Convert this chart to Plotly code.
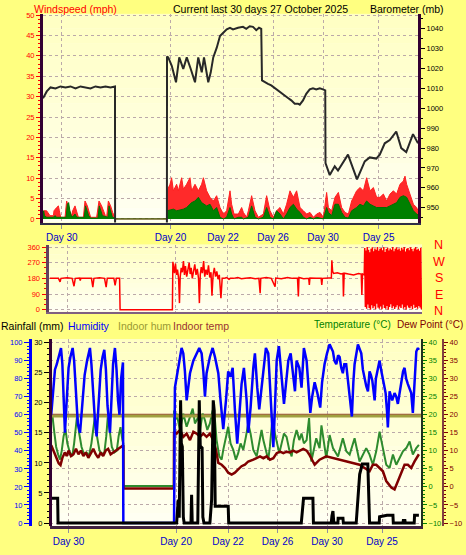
import plotly.graph_objects as go

W, H = 466, 555


def fx(p):
    return p / W


def fy(p):
    return 1 - p / H


# ---------------- DATA ----------------
day_tick_vals = [1.5, 10.2, 14.4, 18.4, 22.4, 26.85]
day_tick_text = ["Day 30", "Day 20", "Day 22", "Day 26", "Day 30", "Day 25"]

wind_ticks = [0, 5, 10, 15, 20, 25, 30, 35, 40, 45, 50]
baro_ticks = [950, 960, 970, 980, 990, 1000, 1010, 1020, 1030, 1040]
dir_ticks = [0, 90, 180, 270, 360]
dir_labels = ["N", "W", "S", "E", "N"]
rain_ticks = [0, 5, 10, 15, 20, 25, 30]
hum_ticks = [0, 10, 20, 30, 40, 50, 60, 70, 80, 90, 100]
temp_ticks = [-10, -5, 0, 5, 10, 15, 20, 25, 30, 35, 40]

# wind gust (mph)
gust_days = [0.0, 0.06, 0.29, 0.43, 0.56, 0.83, 0.88, 1.09, 1.23, 1.31,
             1.41, 1.76, 1.89, 2.03, 2.16, 2.29, 2.37, 2.56, 2.69, 2.83,
             3.23, 3.36, 3.55, 3.71, 3.81, 4.29, 4.48, 4.69, 4.83, 4.99,
             5.09, 5.23, 5.41, 5.57, 5.76, 5.8,
             9.9, 9.92, 10.16, 10.29, 10.43, 10.69, 10.83, 11.09, 11.23, 11.49,
             11.76, 11.89, 12.16, 12.43, 12.69, 12.83, 13.09, 13.36, 13.63, 13.89,
             14.16, 14.43, 14.69, 14.96, 15.09, 15.28, 15.63, 15.89, 16.03, 16.29,
             16.43, 16.69, 16.96, 17.23, 17.63, 17.89, 18.16, 18.43, 18.69, 18.96,
             19.23, 19.49, 19.76, 20.03, 20.29, 20.56, 20.83, 21.09, 21.36, 21.63,
             21.89, 22.16, 22.43, 22.69, 22.83, 23.09, 23.36, 23.63, 23.89, 24.16,
             24.43, 24.69, 25.09, 25.36, 25.63, 25.89, 26.16, 26.43, 26.69, 26.96,
             27.23, 27.49, 27.76, 28.03, 28.29, 28.56, 28.83, 28.96, 29.09, 29.36,
             29.63, 29.89, 30.0]
gust_vals = [0, 2.0, 2.0, 1.2, 0.8, 0.8, 2.0, 2.8, 3.2, 2.0,
             0.4, 0.4, 4.4, 3.2, 1.6, 0.8, 2.0, 3.2, 2.0, 0.4,
             0.4, 4.4, 3.2, 1.6, 0.4, 0.4, 4.4, 3.2, 2.0, 0.8,
             0.4, 4.4, 3.2, 1.6, 0.4, 0,
             0, 6.9, 8.5, 10.1, 6.9, 8.5, 6.9, 10.1, 7.3, 8.5,
             10.1, 6.9, 8.5, 6.9, 8.5, 10.1, 6.9, 5.3, 4.4, 5.7,
             2.8, 1.2, 2.0, 6.9, 3.6, 1.2, 1.2, 2.8, 1.6, 0.4,
             2.0, 5.7, 2.0, 0.4, 1.2, 5.7, 2.0, 0.4, 2.0, 2.8,
             1.2, 3.6, 6.9, 5.3, 6.9, 2.8, 2.0, 1.2, 1.6, 0.4,
             1.2, 1.6, 0.4, 6.5, 2.8, 2.0, 5.3, 6.5, 2.8, 1.6,
             1.2, 4.4, 6.9, 7.7, 6.9, 10.1, 6.9, 7.7, 5.3, 5.3,
             6.1, 4.4, 6.1, 6.9, 6.1, 8.5, 9.3, 10.5, 8.5, 6.1,
             3.6, 2.8, 2.0]

# average wind (mph)
avg_days = [0.0, 0.05, 0.12, 0.3, 0.83, 0.95, 1.1, 1.85, 1.95, 2.05,
            2.15, 2.3, 2.45, 2.56, 2.7, 3.3, 3.4, 3.5, 3.65, 3.8,
            4.4, 4.5, 4.62, 4.75, 5.2, 5.28, 5.4, 5.55, 5.76, 5.8,
            9.9, 9.92, 10.43, 10.69, 11.23, 11.49, 11.89, 12.16, 12.43, 12.69,
            13.09, 13.36, 13.63, 13.89, 14.16, 14.43, 14.69, 14.96, 15.09, 15.28,
            15.63, 15.89, 16.03, 16.43, 16.69, 16.96, 17.23, 17.63, 17.89, 18.16,
            18.43, 18.69, 18.96, 19.23, 19.49, 19.76, 20.03, 20.29, 20.56, 20.83,
            21.09, 21.36, 21.63, 21.89, 22.16, 22.43, 22.69, 22.83, 23.09, 23.36,
            23.63, 23.89, 24.16, 24.43, 24.69, 25.09, 25.36, 25.63, 25.89, 26.16,
            26.43, 26.69, 26.96, 27.23, 27.49, 27.76, 28.03, 28.29, 28.56, 28.83,
            29.09, 29.36, 29.63, 29.89, 30.0]
avg_vals = [0, 2.0, 0.8, 0.4, 0.4, 0.8, 0.4, 0.4, 3.6, 4.0,
            2.0, 0.4, 0.8, 1.2, 0.4, 0.4, 3.2, 2.4, 0.8, 0.2,
            0.2, 3.2, 2.0, 0.8, 0.4, 3.2, 2.0, 0.4, 0.2, 0,
            0, 2.0, 2.4, 2.0, 2.4, 2.8, 4.0, 4.4, 5.3, 4.0,
            3.2, 3.6, 2.0, 2.8, 0.4, 0.0, 0.4, 2.8, 1.2, 0.0,
            0.4, 0.4, 0.0, 0.4, 3.2, 0.4, 0.0, 0.4, 2.8, 0.4,
            0.0, 2.0, 1.2, 0.0, 1.2, 2.8, 3.6, 2.4, 1.6, 0.4,
            0.0, 0.4, 0.0, 0.4, 0.2, 0.0, 2.8, 1.6, 0.8, 3.6,
            3.6, 1.6, 0.4, 0.2, 2.0, 2.8, 3.6, 3.2, 4.4, 3.6,
            3.2, 2.8, 2.8, 2.8, 2.8, 3.2, 3.6, 4.0, 5.3, 5.7,
            5.3, 3.6, 2.0, 1.2, 1.0]

# barometer (mb)
baro_days = [0.0, 0.3, 0.6, 1.0, 1.4, 1.8, 2.2, 2.6, 3.0, 3.4,
             3.8, 4.2, 4.6, 5.0, 5.4, 5.76, 5.77, 9.91, 9.92, 10.02,
             10.3, 10.64, 10.9, 11.22, 11.5, 11.82, 12.16, 12.42, 12.7, 12.88,
             13.22, 13.42, 13.62, 13.9, 14.16, 14.42, 14.7, 14.96, 15.2, 15.6,
             16.0, 16.26, 16.54, 16.8, 17.06, 17.28, 17.46, 17.52, 17.74, 18.0,
             18.26, 18.54, 18.8, 19.06, 19.34, 19.6, 19.86, 20.14, 20.4, 20.54,
             20.8, 21.06, 21.34, 21.6, 21.86, 22.14, 22.4, 22.58, 22.6, 22.94,
             23.34, 23.6, 24.4, 25.12, 25.74, 26.14, 26.66, 26.94, 27.34, 27.74,
             28.26, 28.66, 29.06, 29.6, 30.0]
baro_vals = [1005, 1008.5, 1010.5, 1010, 1011, 1010.5, 1011, 1010, 1011, 1010.5,
             1010, 1011, 1010.5, 1011, 1010.5, 1011, 900, 900, 1026, 1025.6,
             1021.4, 1013.1, 1025.6, 1019.8, 1025.6, 1019.8, 1013.1, 1025.6, 1018.1, 1025.6,
             1013.1, 1018.1, 1025.6, 1030.5, 1036.4, 1038, 1039.7, 1040.5, 1039.7, 1040.5,
             1041, 1040, 1041.3, 1041, 1039.3, 1040.5, 1040, 1014, 1013.1, 1012.3,
             1011.5, 1010.1, 1009, 1007.8, 1006.5, 1005.2, 1004, 1002.3, 1002.3, 1001.8,
             1004, 1007.3, 1009.5, 1010.1, 1009.5, 1010.1, 1009.5, 1009, 972.5, 966.4,
             970.8, 968.7, 976.7, 964.2, 973.3, 975.3, 974.7, 976.7, 982.4, 984,
             988.3, 980, 978, 987, 982.4]

# wind direction (degrees)
dir_days = [0.1, 0.5, 0.8, 0.93, 1.0, 1.5, 1.9, 2.05, 2.15, 2.5,
            2.55, 2.6, 3.0, 3.45, 3.56, 3.65, 4.1, 4.5, 4.63, 4.72,
            5.25, 5.35, 5.45, 5.71, 5.75, 9.95,
            9.99, 10.05, 10.12, 10.2, 10.28, 10.36, 10.45, 10.52, 10.58, 10.66,
            10.75, 10.84, 10.92, 11.0, 11.1, 11.2, 11.3, 11.38, 11.46, 11.55,
            11.65, 11.75, 11.85, 11.95, 12.05, 12.12, 12.19, 12.27, 12.36, 12.46,
            12.55, 12.65, 12.75, 12.85, 12.95, 13.05, 13.13, 13.22, 13.32, 13.42,
            13.52, 13.62, 13.72, 13.85, 13.95, 14.1,
            14.3, 14.5, 14.6, 14.87, 15.2, 15.5, 15.8, 16.2, 16.6, 16.9,
            17.0, 17.05, 17.5, 17.9, 18.2, 18.25, 18.7, 19.2, 19.6, 20.0,
            20.07, 20.12, 20.5, 20.9, 20.95, 21.0, 21.5, 21.9, 21.95, 22.0,
            22.5, 22.72, 22.76, 22.82, 22.9, 23.2, 23.5, 23.65, 23.69, 23.75,
            24.1, 24.5, 24.9, 25.12, 25.17, 25.22, 25.36]
dir_vals = [180, 182, 180, 160, 180, 183, 180, 135, 180, 182,
            168, 180, 182, 180, 130, 180, 183, 180, 130, 180,
            180, 140, 180, 180, 0, 0,
            275, 240, 210, 265, 200, 230, 180, 38, 190, 240,
            215, 280, 200, 250, 190, 230, 270, 205, 240, 180,
            220, 260, 200, 235, 180, 38, 200, 245, 210, 280,
            190, 230, 200, 255, 185, 215, 80, 200, 240, 190,
            220, 175, 200, 66, 180, 180,
            185, 175, 180, 180, 185, 178, 180, 183, 178, 180,
            95, 180, 185, 180, 132, 182, 178, 185, 180, 180,
            76, 185, 178, 180, 142, 182, 180, 180, 142, 180,
            182, 182, 284, 220, 208, 212, 205, 208, 76, 210,
            205, 200, 208, 205, 85, 205, 200]
# last days: direction swings all round the compass (sampled evenly)
dir_noise_start, dir_noise_end = 25.4, 29.95
dir_noise_vals = [355, 15, 340, 5, 360, 30, 345, 10, 330, 0,
                  350, 25, 358, 8, 335, 20, 352, 3, 345, 35,
                  360, 12, 338, 5, 350, 18, 355, 2, 342, 28,
                  360, 10, 332, 6, 348, 22, 356, 0, 340, 15,
                  352, 32, 345, 8, 360, 20, 336, 4, 350, 14,
                  358, 26, 344, 2, 352, 18, 338, 10, 356, 30,
                  346, 6, 360, 16, 334, 0, 350, 24, 355, 12,
                  342, 8, 358, 20, 348, 3, 336, 28, 352, 10,
                  360, 16, 344, 5, 350, 22, 338, 12, 356, 2]

# humidity (%)
hum_days = [0.1, 0.25, 0.4, 0.55, 0.7, 0.89, 1.0, 1.1, 1.21, 1.35,
            1.5, 1.65, 1.83, 1.95, 2.1, 2.25, 2.43, 2.6, 2.8, 3.0,
            3.23, 3.35, 3.5, 3.65, 3.77, 3.95, 4.1, 4.25, 4.39, 4.52,
            4.65, 4.85, 4.98, 5.1, 5.25, 5.38, 5.5, 5.62, 5.75, 5.9,
            5.93, 10.03,
            10.1, 10.37, 10.64, 10.78, 10.91, 11.05, 11.32, 11.59, 11.86, 12.07,
            12.26, 12.4, 12.53, 12.66, 12.93, 13.15, 13.34, 13.61, 13.79, 14.01,
            14.23, 14.41, 14.6, 14.77, 14.95, 15.14, 15.3, 15.49, 15.68, 15.9,
            16.03, 16.22, 16.44, 16.57, 16.76, 16.92, 17.11, 17.25, 17.46, 17.65,
            17.84, 18.06, 18.19, 18.33, 18.51, 18.65, 18.81, 18.92, 19.08, 19.27,
            19.46, 19.62, 19.81, 19.94, 20.16, 20.34, 20.53, 20.75, 20.88, 21.05,
            21.2, 21.4, 21.62, 21.85, 22.0, 22.2, 22.4, 22.61, 22.88, 23.0,
            23.15, 23.3, 23.42, 23.55, 23.68, 23.8, 23.95, 24.1, 24.22, 24.41,
            24.53, 24.63, 24.9, 25.05, 25.17, 25.3, 25.44, 25.57, 25.71, 25.84,
            25.95, 26.06, 26.15, 26.25, 26.35, 26.43, 26.55, 26.65, 26.8, 26.92,
            27.05, 27.14, 27.25, 27.32, 27.46, 27.57, 27.67, 27.86, 28.0, 28.13,
            28.27, 28.4, 28.55, 28.67, 28.8, 28.94, 29.08, 29.21, 29.34, 29.42,
            29.48, 29.62, 29.75, 29.83]
hum_vals = [60, 75, 85, 88, 92, 97, 88, 68, 50, 68,
            86, 92, 97, 90, 72, 55, 50, 65, 82, 90,
            97, 88, 70, 55, 48, 68, 85, 92, 96, 85,
            65, 50, 68, 88, 97, 85, 68, 60, 80, 89,
            0, 0,
            75, 86, 97, 94, 84, 68, 83, 90, 94, 97,
            94, 84, 70, 83, 92, 97, 92, 83, 68, 52,
            68, 84, 81, 86, 63, 44, 59, 77, 86, 68,
            50, 64, 86, 94, 75, 63, 75, 84, 97, 94,
            72, 42, 64, 90, 98, 86, 75, 66, 77, 90,
            94, 83, 73, 90, 86, 75, 97, 90, 79, 61,
            70, 78, 72, 64, 78, 88, 94, 99, 95, 90,
            88, 93, 92, 86, 83, 88, 88, 78, 70, 59,
            78, 88, 99, 96, 94, 85, 79, 76, 73, 84,
            82, 79, 74, 68, 80, 83, 86, 90, 84, 79,
            76, 72, 62, 53, 73, 70, 68, 72, 70, 66,
            72, 79, 84, 86, 80, 77, 74, 72, 61, 70,
            79, 95, 97, 96]

# outdoor temperature (°C)
temp_days = [0.1, 0.2, 0.35, 0.5, 0.65, 0.81, 0.95, 1.1, 1.25, 1.4,
             1.6, 1.8, 1.95, 2.1, 2.2, 2.35, 2.55, 2.75, 2.95, 3.15,
             3.35, 3.5, 3.64, 3.8, 4.0, 4.2, 4.4, 4.55, 4.69, 4.85,
             5.0, 5.2, 5.4, 5.55, 5.7, 5.85, 5.93, 5.94, 10.02,
             10.03, 10.1, 10.24, 10.51, 10.78, 11.05, 11.32, 11.54, 11.72, 11.99,
             12.13, 12.34, 12.53, 12.72, 12.93, 13.15, 13.34, 13.47, 13.69, 13.88,
             14.01, 14.23, 14.41, 14.6, 14.82, 15.03, 15.22, 15.41, 15.63, 15.84,
             16.03, 16.22, 16.44, 16.71, 16.92, 17.11, 17.25, 17.46, 17.65, 17.78,
             18.0, 18.19, 18.38, 18.54, 18.73, 18.92, 19.13, 19.35, 19.54, 19.72,
             19.94, 20.16, 20.34, 20.53, 20.75, 20.95, 21.13, 21.53, 21.8, 21.95,
             22.34, 22.61, 22.88, 23.29, 23.68, 23.96, 24.23, 24.63, 25.03, 25.31,
             25.57, 25.84, 26.11, 26.38, 26.65, 26.92, 27.19, 27.46, 27.73, 28.0,
             28.27, 28.54, 28.81, 29.08, 29.34, 29.62, 29.83]
temp_vals = [18.5, 19.5, 15, 11, 9, 7.5, 10, 14, 16, 12,
             9.5, 8.5, 12, 17, 20, 15, 11, 9, 9.5, 8.5,
             12, 16, 19.5, 14, 10, 9, 9.5, 14, 20, 15,
             11, 9.5, 10, 14, 16.5, 13, 12, 0.2, 0.2,
             21.1, 18.4, 20.2, 15.7, 20.2, 16.6, 19.3, 21.6, 17.5, 19.3,
             15.7, 20.2, 18.4, 15.7, 17.5, 21.1, 18.4, 12.9, 8.4, 7.5,
             10.2, 13.8, 16.6, 12.0, 10.2, 7.5, 9.3, 12.0, 10.2, 13.8,
             17.5, 14.7, 10.2, 8.4, 12.9, 15.7, 12.9, 10.2, 7.5, 11.1,
             19.3, 14.7, 12.0, 9.3, 12.0, 14.7, 13.8, 10.2, 8.4, 12.9,
             15.7, 12.9, 14.7, 12.0, 12.9, 19.0, 7.0, 13.4, 10.7, 17.0,
             7.9, 14.3, 10.7, 8.4, 13.4, 9.8, 8.9, 13.4, 7.0, 8.9,
             10.7, 8.9, 6.1, 9.8, 15.2, 10.7, 6.1, 5.2, 8.9, 6.1,
             7.9, 9.8, 10.7, 12.5, 8.9, 10.7, 11.6]

# dew point (°C)
dew_days = [0.1, 0.3, 0.5, 0.7, 0.85, 1.0, 1.2, 1.35, 1.5, 1.7,
            1.9, 2.1, 2.3, 2.5, 2.7, 2.9, 3.1, 3.3, 3.5, 3.7,
            3.9, 4.1, 4.3, 4.5, 4.7, 4.9, 5.1, 5.3, 5.5, 5.7,
            5.9, 5.93, 5.94, 10.02,
            10.03, 10.24, 10.51, 10.78, 11.05, 11.32, 11.59, 11.86, 12.13, 12.4,
            12.66, 12.93, 13.2, 13.42, 13.61, 13.88, 14.15, 14.41, 14.69, 14.95,
            15.22, 15.49, 15.76, 16.03, 16.44, 16.71, 16.98, 17.25, 17.52, 17.78,
            18.06, 18.33, 18.6, 18.87, 19.13, 19.4, 19.67, 19.94, 20.21, 20.48,
            20.75, 20.95, 21.4, 21.8, 22.34, 22.88, 23.42, 23.96, 24.5, 25.03,
            25.44, 25.84, 26.11, 26.38, 26.65, 26.92, 27.19, 27.6, 27.86, 28.13,
            28.4, 28.67, 28.94, 29.21, 29.48, 29.75, 29.83]
dew_vals = [11.5, 10, 8, 6.5, 6, 8, 9.5, 8.5, 10, 8.5,
            9, 10.5, 9, 10, 8.5, 9.5, 8, 9.5, 10.5, 9,
            8, 9.5, 8.5, 10, 10.5, 9, 9.5, 10, 10.5, 11,
            11.5, 11.5, -0.5, -0.5,
            15.2, 14.7, 15.7, 13.8, 14.7, 12.9, 15.2, 14.7, 13.8, 14.7,
            13.8, 14.7, 12.9, 10.2, 6.6, 6.1, 5.2, 3.9, 3.4, 3.9,
            4.8, 5.7, 6.1, 7.0, 7.5, 7.9, 8.4, 7.9, 8.4, 7.5,
            7.9, 9.3, 9.7, 9.3, 9.7, 9.5, 10.0, 9.5, 10.0, 10.5,
            10.0, 9.0, 6.1, 7.5, 8.4, 7.9, 7.5, 7.0, 6.6, 6.1,
            5.2, 4.3, 6.1, 6.1, 5.2, 4.3, 1.6, -0.2, -0.7, 1.6,
            4.3, 6.1, 6.1, 5.2, 7.0, 8.9, 9.0]

# rainfall (mm)
rain_days = [0.1, 0.62, 0.65, 10.24, 10.37, 10.45, 10.56, 10.62, 10.7, 10.78,
             10.85, 11.4, 11.45, 11.5, 11.95, 12.0, 12.07, 12.15, 12.3, 12.36,
             12.45, 12.93, 13.07, 13.2, 13.28, 13.36, 14.41, 14.45, 20.32, 20.5,
             21.26, 21.3, 22.74, 22.8, 22.88, 22.95, 23.28, 23.3, 23.69, 23.72,
             24.76, 25.04, 25.25, 25.7, 25.84, 26.62, 26.65, 27.25, 27.73, 27.76,
             28.54, 28.57, 28.7, 28.73, 29.45, 29.48, 29.83]
rain_vals = [4.1, 4.1, 0, 0, 3.9, 0.9, 20.4, 13.3, 12.7, 1.0,
             0, 0, 4.7, 0, 0, 12.5, 20.4, 12.8, 12.5, 1.0,
             0, 0, 3.9, 20.4, 18.7, 2.8, 2.8, 0, 0, 4.1,
             4.1, 0, 0, 1.2, 2.0, 0, 0, 0.8, 0.8, 0,
             0, 8.1, 9.8, 9.8, 0, 0, 1.05, 1.3, 1.3, 0,
             0, 0.4, 0.4, 0, 0, 1.3, 1.3]

indoor_days = [0.0, 30.0]
indoor_hum_vals = [59.3, 59.3]
indoor_temp_vals = [19.9, 19.9]

# ---------------- FIGURE ----------------
n_noise = len(dir_noise_vals)
noise_days = [dir_noise_start + i * (dir_noise_end - dir_noise_start) / (n_noise - 1)
              for i in range(n_noise)]
dir_all_days = dir_days + noise_days
dir_all_vals = dir_vals + dir_noise_vals

FONT = "Liberation Sans, Arial, sans-serif"
GRID = "#BBA9A9"
TICK_SIZE = 7.5
TXT = 10.5

fig = go.Figure()

# Panel 1
fig.add_trace(go.Scatter(x=gust_days, y=gust_vals, mode="lines", fill="tozeroy",
                         fillcolor="#FF2A2A", line=dict(color="#FF2020", width=1),
                         xaxis="x", yaxis="y", hoverinfo="skip"))
fig.add_trace(go.Scatter(x=avg_days, y=avg_vals, mode="lines", fill="tozeroy",
                         fillcolor="#008000", line=dict(color="#007000", width=1),
                         xaxis="x", yaxis="y", hoverinfo="skip"))
fig.add_trace(go.Scatter(x=baro_days, y=baro_vals, mode="lines",
                         line=dict(color="#282828", width=2),
                         xaxis="x", yaxis="y2", hoverinfo="skip"))

# Panel 2
fig.add_trace(go.Scatter(x=dir_all_days, y=dir_all_vals, mode="lines",
                         line=dict(color="#FF0000", width=1.5),
                         xaxis="x2", yaxis="y3", hoverinfo="skip"))

# Panel 3 (y4 temp base, y5 dew, y6 humidity, y7 rain)
fig.add_trace(go.Scatter(x=indoor_days, y=indoor_temp_vals, mode="lines",
                         line=dict(color="#A04040", width=2),
                         xaxis="x3", yaxis="y4", hoverinfo="skip"))
fig.add_trace(go.Scatter(x=temp_days, y=temp_vals, mode="lines",
                         line=dict(color="#2E8B2E", width=2),
                         xaxis="x3", yaxis="y4", hoverinfo="skip"))
fig.add_trace(go.Scatter(x=dew_days, y=dew_vals, mode="lines",
                         line=dict(color="#800000", width=2.5),
                         xaxis="x3", yaxis="y5", hoverinfo="skip"))
fig.add_trace(go.Scatter(x=indoor_days, y=indoor_hum_vals, mode="lines",
                         line=dict(color="#A0A040", width=3),
                         xaxis="x3", yaxis="y6", hoverinfo="skip"))
fig.add_trace(go.Scatter(x=hum_days, y=hum_vals, mode="lines",
                         line=dict(color="#0000FF", width=2.5),
                         xaxis="x3", yaxis="y6", hoverinfo="skip"))
fig.add_trace(go.Scatter(x=rain_days, y=rain_vals, mode="lines",
                         line=dict(color="#000000", width=3),
                         xaxis="x3", yaxis="y7", hoverinfo="skip"))

# panel frames in pixels (left, right, top, bottom)
P1 = (43, 418, 11, 222)
P2 = (48.5, 422, 244.3, 312)
P3 = (50, 421, 340, 529)


def xgrid(domain_px, anchor, labels, linecolor, lw):
    d = dict(domain=[fx(domain_px[0]), fx(domain_px[1])], range=[0, 30], anchor=anchor,
             tickmode="array", tickvals=day_tick_vals,
             showgrid=True, gridcolor=GRID, griddash="dot", gridwidth=1,
             showline=True, linecolor=linecolor, linewidth=lw, zeroline=False,
             fixedrange=True)
    if labels:
        d.update(ticktext=day_tick_text, tickfont=dict(color="#0000CC", size=10, family=FONT),
                 ticks="outside", ticklen=4, tickcolor="#9090A0")
    else:
        d.update(showticklabels=False, ticks="")
    return d


def yax(**kw):
    base = dict(tickmode="array", ticks="outside", ticklen=4, zeroline=False,
                fixedrange=True, showline=True)
    base.update(kw)
    return base


layout = dict(
    width=W, height=H, autosize=False,
    margin=dict(l=0, r=0, t=0, b=0, pad=0),
    paper_bgcolor="#FFFF80", plot_bgcolor="#FFFFE4",
    showlegend=False,
    font=dict(family=FONT, size=TICK_SIZE),
    xaxis=xgrid(P1[:2], "y", True, "#303048", 2),
    xaxis2=xgrid(P2[:2], "y3", False, "#806080", 2),
    xaxis3=xgrid(P3[:2], "y4", True, "#402040", 3),
    yaxis=yax(domain=[fy(P1[3]), fy(P1[2])], range=[-0.9, 50.3], anchor="x",
              tickvals=wind_ticks,
              tickfont=dict(color="#FF0000", size=TICK_SIZE), tickcolor="#FF0000",
              minor=dict(tick0=0, dtick=1, ticks="outside", ticklen=2,
                         tickcolor="#FF0000", showgrid=False),
              showgrid=True, gridcolor=GRID, griddash="dot",
              linecolor="#330033", linewidth=3),
    yaxis2=yax(overlaying="y", side="right", anchor="x", range=[942.5, 1047.5],
               tickvals=baro_ticks,
               tickfont=dict(color="#000000", size=TICK_SIZE), tickcolor="#000000",
               minor=dict(tick0=940, dtick=5, ticks="outside", ticklen=2,
                          tickcolor="#000000", showgrid=False),
               showgrid=False, linecolor="#330033", linewidth=3),
    yaxis3=yax(domain=[fy(P2[3]), fy(P2[2])], range=[-11, 373.6], anchor="x2",
               tickvals=dir_ticks,
               tickfont=dict(color="#FF0000", size=TICK_SIZE), tickcolor="#FF0000",
               minor=dict(tick0=0, dtick=30, ticks="outside", ticklen=2,
                          tickcolor="#FF0000", showgrid=False),
               showgrid=True, gridcolor=GRID, griddash="dot",
               linecolor="#604060", linewidth=3),
    yaxis4=yax(domain=[fy(P3[3]), fy(P3[2])], range=[-10.9, 40.74], anchor="x3",
               side="right", tickvals=temp_ticks,
               tickfont=dict(color="#008000", size=TICK_SIZE), tickcolor="#008000",
               minor=dict(tick0=-10, dtick=1, ticks="outside", ticklen=2,
                          tickcolor="#008000", showgrid=False),
               showgrid=True, gridcolor=GRID, griddash="dot",
               linecolor="#203020", linewidth=2),
    yaxis5=yax(overlaying="y4", anchor="free", position=fx(443), side="right",
               range=[-10.9, 40.74], tickvals=temp_ticks,
               tickfont=dict(color="#800000", size=TICK_SIZE), tickcolor="#800000",
               minor=dict(tick0=-10, dtick=1, ticks="outside", ticklen=2,
                          tickcolor="#800000", showgrid=False),
               showgrid=False, linecolor="#804040", linewidth=2),
    yaxis6=yax(overlaying="y4", anchor="free", position=fx(30), side="left",
               range=[-1.8, 101.8], tickvals=hum_ticks, ticklen=5,
               tickfont=dict(color="#0000FF", size=TICK_SIZE), tickcolor="#0000FF",
               minor=dict(tick0=0, dtick=2, ticks="outside", ticklen=2,
                          tickcolor="#0000FF", showgrid=False),
               showgrid=False, linecolor="#0000FF", linewidth=3),
    yaxis7=yax(overlaying="y4", anchor="free", position=fx(50), side="left",
               range=[-0.54, 30.54], tickvals=rain_ticks, ticklen=5,
               tickfont=dict(color="#000000", size=TICK_SIZE), tickcolor="#000000",
               minor=dict(tick0=0, dtick=1, ticks="outside", ticklen=2,
                          tickcolor="#000000", showgrid=False),
               showgrid=False, linecolor="#330033", linewidth=3),
)
fig.update_layout(**layout)

# gradient backgrounds inside plot areas
shapes = []
for (l, r, t, b) in (P1, P2, P3):
    n = 14
    for i in range(n):
        y0 = t + (b - t) * i / n
        y1 = t + (b - t) * (i + 1) / n
        k = i / (n - 1)
        bl = int(196 + (242 - 196) * k)
        shapes.append(dict(type="rect", xref="paper", yref="paper",
                           x0=fx(l), x1=fx(r), y0=fy(y1), y1=fy(y0),
                           fillcolor=f"rgb(255,255,{bl})", line=dict(width=0),
                           layer="below"))
fig.update_layout(shapes=shapes)

ann = []


def text(s, xpx, ypx, color, size=TXT, anchor="left"):
    ann.append(dict(text=s, x=fx(xpx), y=fy(ypx), xref="paper", yref="paper",
                    xanchor=anchor, yanchor="middle", showarrow=False, borderpad=0,
                    font=dict(color=color, size=size, family=FONT)))


text("Windspeed (mph)", 33, 6, "#FF0000")
text("Current last 30 days 27 October 2025", 172, 6, "#000000")
text("Barometer (mb)", 445, 6, "#000000", anchor="right")
for lab, ypx in zip(dir_labels, [245, 262, 278.5, 295, 311]):
    text(lab, 438.5, ypx, "#FF0000", 12.5, "center")
text("Rainfall (mm)", 0, 326.5, "#000000")
text("Humidity", 67, 326.5, "#0000FF")
text("Indoor hum", 117, 326.5, "#999933")
text("Indoor temp", 172, 326.5, "#993333")
text("Temperature (°C)", 392, 325.5, "#008000", size=10, anchor="right")
text("Dew Point (°C)", 464, 325.5, "#800000", size=10, anchor="right")
fig.update_layout(annotations=ann)

fig.write_html("out.html", config={"displayModeBar": False, "staticPlot": True},
               post_script="document.body.style.margin='0px';document.body.style.padding='0px';")
